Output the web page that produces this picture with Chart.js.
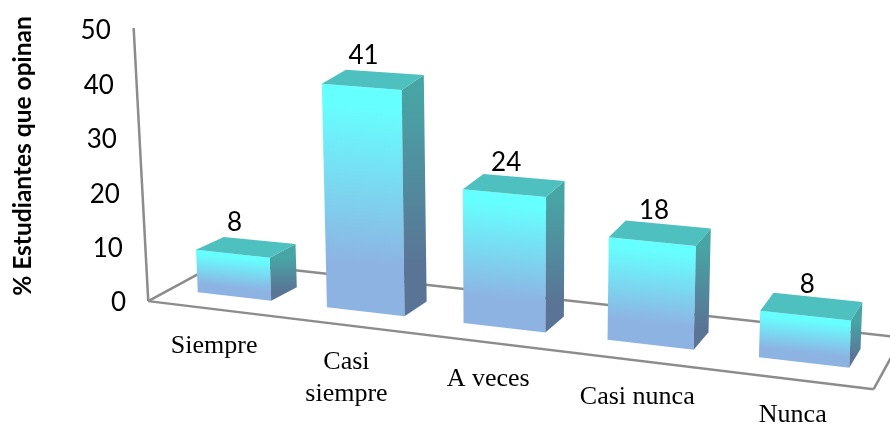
<!DOCTYPE html>
<html><head><meta charset="utf-8">
<style>html,body{margin:0;padding:0;background:#fff}canvas{display:block}</style>
<script src="https://cdn.jsdelivr.net/npm/chart.js@4"></script>
</head><body><canvas id="c" width="890" height="428"></canvas>
<script>
const categories = [['Siempre'], ['Casi','siempre'], ['A veces'], ['Casi nunca'], ['Nunca']];
const values = [8, 41, 24, 18, 8];
const yTicks = [0, 10, 20, 30, 40, 50];
const yTitle = '% Estudiantes que opinan';
const labelShift = [-20, -19, -16, -13, -11];

// 3D perspective of the drawing, applied on top of the library's scales
function project(area, x, H, d) {
  const u = (x - area.left) / area.width;
  const X = 171.3 + 619.5 * u + 92.5 * u * u;
  const lean = H * (u - 0.5) * 0.09;
  const f = 0.974 + 0.114 * u;
  return {
    x: X + lean + d * (28.5 - 18 * u),
    y: 292.3 + 0.1158 * (X - 197.7) - H * f + d * (-12.5 - 6.5 * u)
  };
}
function poly(ctx, pts, fill) {
  ctx.beginPath();
  pts.forEach((p, i) => i ? ctx.lineTo(p.x, p.y) : ctx.moveTo(p.x, p.y));
  ctx.closePath();
  ctx.fillStyle = fill;
  ctx.fill();
}
function line(ctx, a, b) {
  ctx.beginPath(); ctx.moveTo(a.x, a.y); ctx.lineTo(b.x, b.y); ctx.stroke();
}
const wallX = (area, y) => 149 - (area.bottom - y) * 0.056;

const scene = {
  id: 'scene',
  beforeDatasetsDraw(chart) {
    const {ctx, chartArea: a} = chart;
    const toX = u => a.left + u * a.width;
    const fl = project(a, toX(0.005), 0, -0.92);
    const fr = project(a, toX(1), 0, -0.92);
    const bl = project(a, toX(-0.018), 0, 2.1);
    const br = project(a, toX(1.0), 0, 1.8);
    ctx.save();
    ctx.strokeStyle = '#8c8c8c';
    ctx.lineWidth = 2.5;
    line(ctx, {x: wallX(a, a.top - 2), y: a.top - 2}, fl);
    line(ctx, fl, fr);
    line(ctx, fl, bl);
    line(ctx, bl, br);
    line(ctx, fr, {x: fr.x + 17, y: fr.y - 31});
    ctx.restore();
  },
  beforeDatasetDraw(chart, args) {
    const {ctx, chartArea: a} = chart;
    const els = chart.getDatasetMeta(args.index).data;
    els.forEach(el => {
      const H = el.base - el.y;
      const xl = el.x - el.width / 2, xr = el.x + el.width / 2;
      const p = (x, h, d) => project(a, x, h, d);
      const ftl = p(xl, H, 0), ftr = p(xr, H, 0), fbl = p(xl, 0, 0), fbr = p(xr, 0, 0);
      const btl = p(xl, H, 1), btr = p(xr, H, 1), bbr = p(xr, 0, 1);
      // front
      const len = ((fbl.y + fbr.y) - (ftl.y + ftr.y)) / 2;
      const s = (ftr.y - ftl.y) / (ftr.x - ftl.x);
      const g = ctx.createLinearGradient(ftl.x, ftl.y, ftl.x - s * len, ftl.y + len);
      g.addColorStop(0, '#66ffff');
      g.addColorStop(0.08, '#66ffff');
      g.addColorStop(0.78, '#8db3e3');
      g.addColorStop(1, '#8db3e3');
      poly(ctx, [ftl, ftr, fbr, fbl], g);
      // side
      const sg = ctx.createLinearGradient(0, ftr.y, 0, fbr.y);
      sg.addColorStop(0, '#48a5a5');
      sg.addColorStop(0.78, '#5a7496');
      sg.addColorStop(1, '#5a7496');
      poly(ctx, [ftr, btr, bbr, fbr], sg);
      // top
      poly(ctx, [ftl, btl, btr, ftr], '#4ec0bf');
    });
    return false;
  },
  afterDraw(chart) {
    const {ctx, chartArea: a, scales} = chart;
    ctx.save();
    ctx.fillStyle = '#000';
    ctx.textBaseline = 'middle';
    // y ticks along the leaning wall
    ctx.font = '26px Lato';
    ctx.textAlign = 'right';
    scales.y.ticks.forEach(t => {
      const y = scales.y.getPixelForValue(t.value);
      ctx.fillText(String(t.value), wallX(a, y) - 23, y + 1);
    });
    // value labels above each bar
    ctx.textAlign = 'center';
    chart.getDatasetMeta(0).data.forEach((el, i) => {
      const H = el.base - el.y;
      const t = project(a, el.x, H, 0);
      ctx.fillText(String(values[i]), t.x + 2, t.y - 31);
    });
    // category labels below the floor
    ctx.font = '26px "Liberation Serif"';
    categories.forEach((lines, i) => {
      const c = project(a, scales.x.getPixelForValue(i), 0, 0);
      const x = c.x + labelShift[i];
      const y = 300.7 + 0.1197 * (x - 148) + 37.5;
      lines.forEach((tx, k) => ctx.fillText(tx, x, y + k * 32));
    });
    // axis title
    ctx.translate(23, 156);
    ctx.rotate(-Math.PI / 2);
    ctx.font = 'bold 24.5px Lato';
    ctx.fillText(yTitle, 0, 0);
    ctx.restore();
  }
};

new Chart(document.getElementById('c'), {
  type: 'bar',
  data: {
    labels: categories,
    datasets: [{data: values, backgroundColor: '#66ffff', barPercentage: 0.575, categoryPercentage: 1}]
  },
  options: {
    responsive: false,
    animation: false,
    layout: {padding: {left: 171, right: 7, top: 30, bottom: 126}},
    plugins: {legend: {display: false}, tooltip: {enabled: false}},
    scales: {
      x: {display: false},
      y: {display: false, min: yTicks[0], max: yTicks[yTicks.length - 1], ticks: {stepSize: 10}}
    }
  },
  plugins: [scene]
});
</script></body></html>
